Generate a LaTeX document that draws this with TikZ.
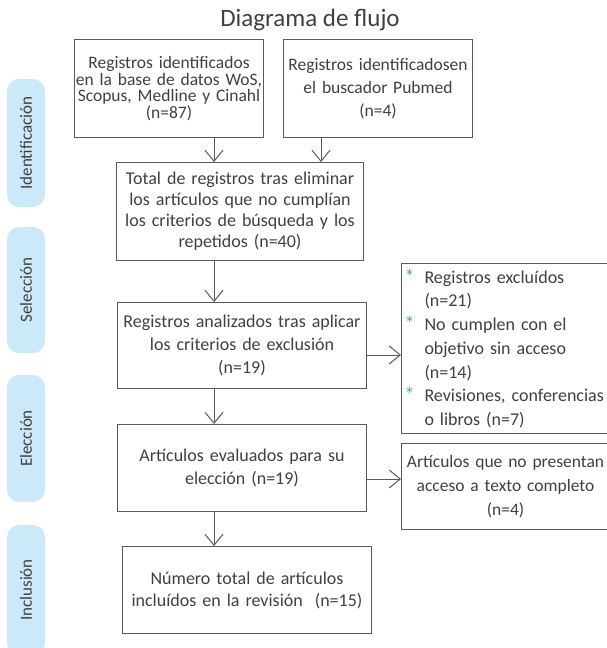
\documentclass[tikz,border=0pt]{standalone}
\usepackage{fontspec}
\setmainfont{Carlito}
\usepackage{xcolor}
\usepackage{tikz}
\usetikzlibrary{arrows.meta}
\definecolor{textgray}{HTML}{404040}
\definecolor{linegray}{HTML}{5A5A5A}
\definecolor{pillblue}{HTML}{CBE9F8}
\definecolor{starblue}{HTML}{2AA7E0}
\newcommand{\bulstar}{\makebox[20pt][l]{\textcolor{starblue}{\fontsize{20}{20}\selectfont*}}}
\newcommand{\hang}{\hspace*{20pt}}
\tikzset{
  flowbox/.style={draw=linegray, line width=1pt, text=textgray, align=center,
    inner sep=0pt, anchor=north west},
  sidebox/.style={flowbox, align=left, inner xsep=3pt},
  phase/.style={fill=pillblue, rounded corners=12pt, text=textgray, rotate=90,
    minimum height=38pt, inner sep=0pt, font=\fontsize{17}{19}\selectfont},
  arr/.style={draw=linegray, line width=1pt, -{Straight Barb[length=11pt,width=18pt]}}
}

\begin{document}
\begin{tikzpicture}[x=1pt, y=-1pt]
    \useasboundingbox (0,0) rectangle (607,648);
    \clip (0,0) rectangle (607,648);

    % Phases
    \node[phase, minimum width=128pt] (pid) at (26,143) {Identificación};
    \node[phase, minimum width=126pt] (psel) at (26,290) {Selección};
    \node[phase, minimum width=127pt] (pele) at (26,438.5) {Elección};
    \node[phase, minimum width=130pt] (pinc) at (26,590) {Inclusión};

    % Title
    \node[text=textgray, font=\fontsize{25}{28}\selectfont] (title) at (310,20) {Diagrama de flujo};

    % Main column
    \node[flowbox, minimum width=189pt, minimum height=98pt, text width=189pt,
      font=\fontsize{17.5}{16.5}\selectfont] (reg) at (74,39)
      {Registros identificados\\en la base de datos WoS,\\Scopus, Medline y Cinahl\\(n=87)};
    \node[flowbox, minimum width=189pt, minimum height=98pt, text width=189pt,
      font=\fontsize{17.5}{23}\selectfont] (pub) at (283,39)
      {Registros identificadosen\\el buscador Pubmed\\(n=4)};
    \node[flowbox, minimum width=247pt, minimum height=98pt, text width=241pt,
      font=\fontsize{18}{21}\selectfont] (tot) at (116,162)
      {Total de registros tras eliminar\\los artículos que no cumplían\\los criterios de búsqueda y los\\repetidos (n=40)};
    \node[flowbox, minimum width=249pt, minimum height=86pt, text width=243pt,
      font=\fontsize{18}{23}\selectfont] (ana) at (117,302)
      {Registros analizados tras aplicar\\los criterios de exclusión\\(n=19)};
    \node[flowbox, minimum width=249pt, minimum height=87pt, text width=243pt,
      font=\fontsize{18}{23}\selectfont] (eva) at (117,424)
      {Artículos evaluados para su\\elección (n=19)};
    \node[flowbox, minimum width=249pt, minimum height=87pt, text width=243pt,
      font=\fontsize{18}{22}\selectfont] (inc) at (122,546)
      {Número total de artículos\\incluídos en la revisión~~(n=15)};

    % Side boxes
    \node[sidebox, minimum width=208pt, minimum height=170pt, text width=202pt,
      font=\fontsize{18}{23.7}\selectfont] (exc) at (401,263)
      {\bulstar Registros excluídos\\\hang(n=21)\\\bulstar No cumplen con el\\\hang objetivo sin acceso\\\hang(n=14)\\\bulstar Revisiones, conferencias\\\hang o libros (n=7)};
    \node[flowbox, minimum width=208pt, minimum height=86pt, text width=206pt,
      font=\fontsize{17.5}{24}\selectfont] (acc) at (401,443)
      {Artículos que no presentan\\acceso a texto completo\\(n=4)};

    % Connectors
    \coordinate (spine) at (214,0);
    \coordinate (spine2) at (321,0);
    \coordinate (tap1) at (0,355);
    \coordinate (tap2) at (0,479);
    \draw[arr] (reg.south -| spine) -- (tot.north -| spine);
    \draw[arr] (pub.south -| spine2) -- (tot.north -| spine2);
    \draw[arr] (tot.south -| spine) -- (ana.north -| spine);
    \draw[arr] (ana.south -| spine) -- (eva.north -| spine);
    \draw[arr] (eva.south -| spine) -- (inc.north -| spine);
    \draw[arr] (ana.east |- tap1) -- (exc.west |- tap1);
    \draw[arr] (eva.east |- tap2) -- (acc.west |- tap2);
\end{tikzpicture}
\end{document}
